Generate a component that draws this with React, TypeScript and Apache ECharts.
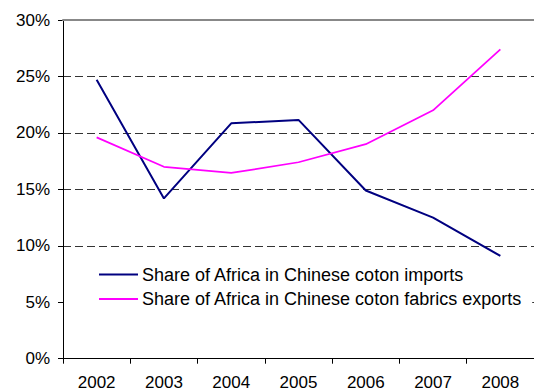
import React, { useEffect, useRef } from "react";
import * as echarts from "echarts";

const years = ["2002", "2003", "2004", "2005", "2006", "2007", "2008"];
const importsShare = [24.7, 14.2, 20.85, 21.15, 14.9, 12.5, 9.1];
const fabricsShare = [19.6, 17.0, 16.45, 17.4, 19.0, 22.0, 27.4];
const seriesNames = [
  "Share of Africa in Chinese coton imports",
  "Share of Africa in Chinese coton fabrics exports",
];

const FONT = "'Liberation Sans', Arial, sans-serif";

export default function App() {
  const ref = useRef<HTMLDivElement>(null);
  useEffect(() => {
    if (!ref.current) return;
    const chart = echarts.init(ref.current, undefined, { renderer: "svg" });
    chart.setOption({
      animation: false,
      backgroundColor: "#fff",
      textStyle: { fontFamily: FONT },
      grid: { left: 63, top: 20, width: 476, bottom: 33.3, containLabel: false },
      legend: {
        orient: "vertical",
        left: 64,
        top: 257,
        padding: [8.5, 10, 10, 35],
        backgroundColor: "#fff",
        icon: "rect",
        itemWidth: 39,
        itemHeight: 2,
        itemGap: 6.5,
        textStyle: { fontSize: 18, color: "#000", fontFamily: FONT, lineHeight: 18, padding: [0, 0, 0, -1] },
        data: seriesNames,
      },
      xAxis: [
        {
          type: "category",
          data: years,
          boundaryGap: true,
          axisLine: { lineStyle: { color: "#000", width: 1 } },
          axisTick: { show: true, length: 5, lineStyle: { color: "#000" } },
          axisLabel: { fontSize: 17, color: "#000", margin: 15, fontFamily: FONT },
          splitLine: { show: false },
        },
        {
          type: "category",
          position: "top",
          data: years,
          z: 3,
          axisLine: { show: true, lineStyle: { color: "#888", width: 2 } },
          axisTick: { show: false },
          axisLabel: { show: false },
          splitLine: { show: false },
        },
      ],
      yAxis: {
        type: "value",
        min: 0,
        max: 30,
        interval: 5,
        axisLine: { show: true, lineStyle: { color: "#000", width: 1 } },
        axisTick: { show: true, length: 5, lineStyle: { color: "#000" } },
        axisLabel: { fontSize: 17, color: "#000", margin: 13, formatter: "{value}%", fontFamily: FONT },
        splitLine: { show: true, lineStyle: { color: "#333", width: 1, type: [8, 4] } },
      },
      series: [
        {
          name: seriesNames[0],
          type: "line",
          data: importsShare,
          symbol: "none",
          lineStyle: { color: "#000080", width: 2 },
          itemStyle: { color: "#000080" },
        },
        {
          name: seriesNames[1],
          type: "line",
          data: fabricsShare,
          symbol: "none",
          lineStyle: { color: "#FF00FF", width: 1.75 },
          itemStyle: { color: "#FF00FF" },
        },
      ],
    });
    return () => chart.dispose();
  }, []);
  return (
    <div
      ref={ref}
      style={{ position: "absolute", left: 0, top: 0, width: 534, height: 392 }}
    />
  );
}
